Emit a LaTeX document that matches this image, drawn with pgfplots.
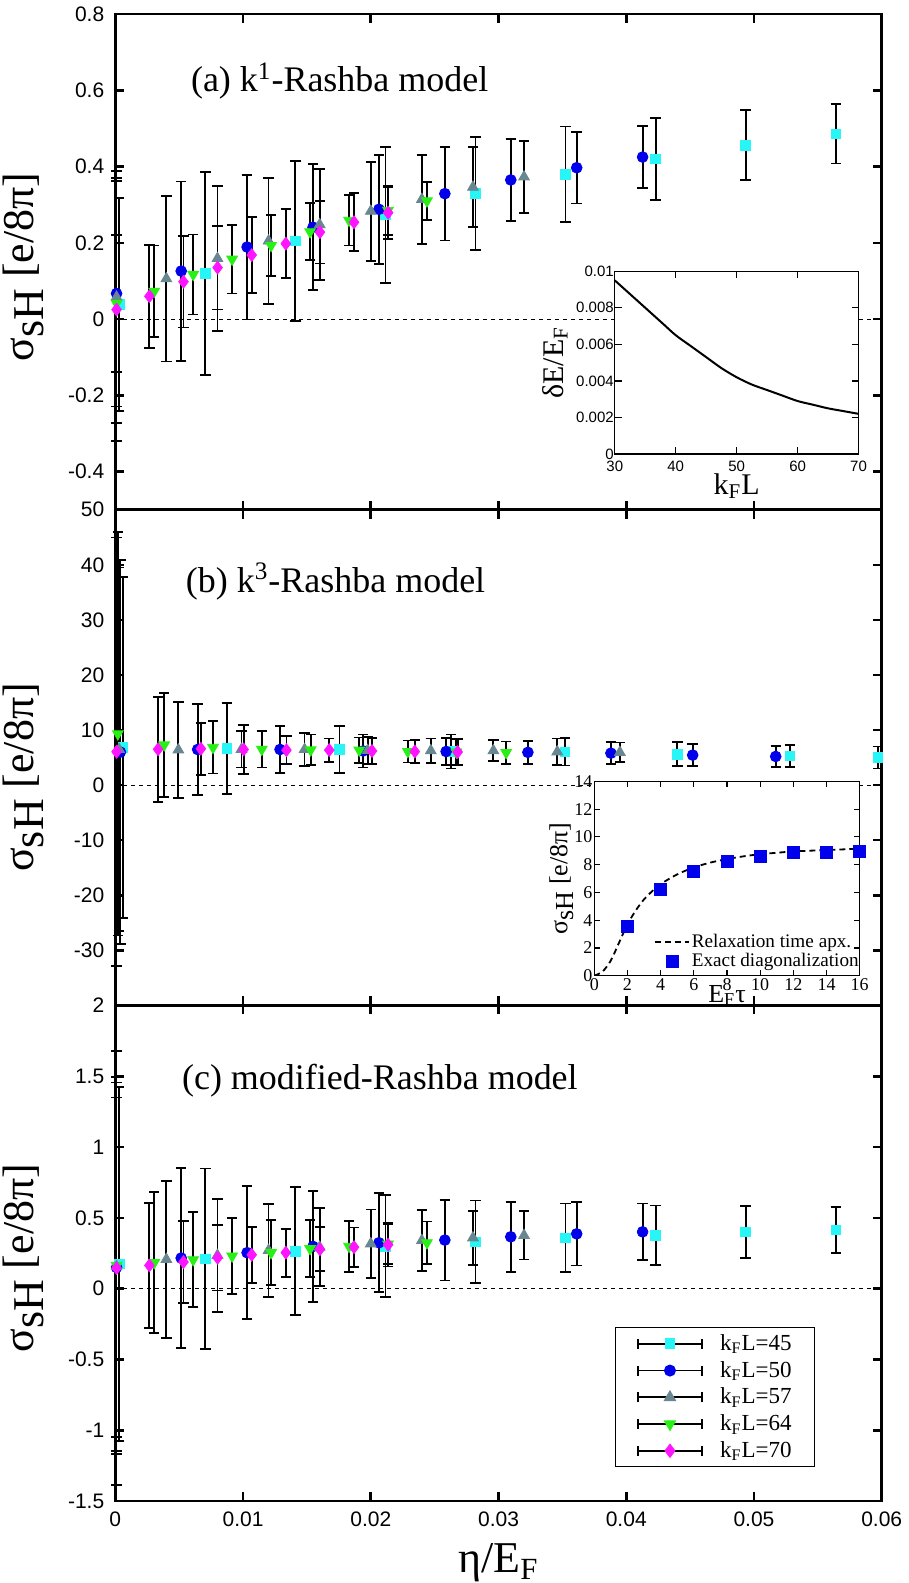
\documentclass[border=0pt]{standalone}
\usepackage{fontspec}
\setmainfont{Liberation Serif}
\setsansfont{Liberation Sans}
\usepackage{pgfplots}
\pgfplotsset{compat=1.18}

\definecolor{cCyan}{RGB}{40,245,245}
\definecolor{cBlue}{RGB}{0,0,235}
\definecolor{cGray}{RGB}{105,135,145}
\definecolor{cGreen}{RGB}{40,240,20}
\definecolor{cMag}{RGB}{255,20,255}

\newcommand{\sigsH}{σ\raisebox{-0.22em}{sH}}

\tikzset{ttl/.style={anchor=west, inner sep=0pt, font=\fontsize{18}{20}\selectfont}}

\pgfplotsset{
  errser/.style={only marks,
    error bars/y dir=both, error bars/y explicit,
    error bars/error bar style={black, line width=0.9pt, solid},
    error bars/error mark options={rotate=90, black, mark size=2.6pt, line width=0.9pt}},
  kA/.style={errser, mark=square*, mark size=2.4pt, color=cCyan},
  kB/.style={errser, mark=*, mark size=2.7pt, color=cBlue},
  kC/.style={errser, mark=triangle*, mark size=3.1pt, color=cGray},
  kD/.style={errser, mark=triangle*, mark size=3.1pt, mark options={rotate=180}, color=cGreen},
  kE/.style={errser, mark=diamond*, mark size=3.2pt, color=cMag},
  main/.style={scale only axis, width=383.5pt, height=248pt, anchor=north west,
    xmin=0, xmax=0.06, xtick={0,0.01,0.02,0.03,0.04,0.05,0.06},
    scaled ticks=false,
    axis line style={line width=1.3pt},
    major tick style={black, line width=1.3pt},
    major tick length=4.5pt, clip=false,
    tick label style={font=\sffamily\fontsize{10.5}{12}\selectfont},
    /pgf/number format/assume math mode=true,
    yticklabel style={xshift=-2pt},
    ylabel style={font=\fontsize{22}{26}\selectfont, inner sep=1.5pt, anchor=center},
  },
  zline/.style={black, line width=0.6pt, dash pattern=on 2pt off 2pt, forget plot},
  legerr/.style={legend image code/.code={
      \draw[black, line width=0.9pt] (0pt,0pt) -- (32pt,0pt) (0pt,-2.5pt) -- (0pt,2.5pt) (32pt,-2.5pt) -- (32pt,2.5pt);
      \draw[##1] plot coordinates {(16pt,0pt)};
      \path (40.5pt,0pt);}},
}

\begin{document}
\begin{tikzpicture}
\path (-57.5pt,6.5pt) rectangle (396pt,-785pt);

% (a) k^1-Rashba
\begin{axis}[main, at={(0,0)}, ymin=-0.5, ymax=0.8,
  ytick={-0.4,-0.2,0,0.2,0.4,0.6,0.8}, xticklabels={},
  ylabel={\sigsH{} [e/8π]},
  ylabel style={at={(axis description cs:-0.12,0.49)}}]
\addplot[zline] coordinates {(0,0) (0.06,0)};
\addplot[kA] coordinates {
 (0.0003,0.038) +- (0,0.28) (0.00705,0.120) +- (0,0.266) (0.0141,0.205) +- (0,0.21)
 (0.02115,0.273) +- (0,0.178) (0.0282,0.330) +- (0,0.148) (0.03525,0.380) +- (0,0.125)
 (0.0423,0.420) +- (0,0.108) (0.04935,0.456) +- (0,0.092) (0.0564,0.486) +- (0,0.078)};
\addplot[kB] coordinates {
 (0.0001,0.067) +- (0,0.296) (0.00516,0.126) +- (0,0.235) (0.01032,0.189) +- (0,0.19)
 (0.01548,0.241) +- (0,0.165) (0.02064,0.288) +- (0,0.143) (0.0258,0.329) +- (0,0.123)
 (0.03096,0.365) +- (0,0.108) (0.03612,0.397) +- (0,0.094) (0.04128,0.425) +- (0,0.082)};
\addplot[kC] coordinates {
 (0.0001,0.058) +- (0,0.33) (0.004,0.106) +- (0,0.217) (0.008,0.159) +- (0,0.19)
 (0.012,0.205) +- (0,0.165) (0.016,0.248) +- (0,0.145) (0.020,0.283) +- (0,0.13)
 (0.024,0.314) +- (0,0.116) (0.028,0.346) +- (0,0.105) (0.032,0.373) +- (0,0.094)};
\addplot[kD] coordinates {
 (0.0001,0.041) +- (0,0.18) (0.00305,0.073) +- (0,0.12) (0.0061,0.117) +- (0,0.105)
 (0.00915,0.157) +- (0,0.09) (0.0122,0.193) +- (0,0.08) (0.01525,0.229) +- (0,0.075)
 (0.0183,0.259) +- (0,0.066) (0.02135,0.285) +- (0,0.065) (0.0244,0.310) +- (0,0.05)};
\addplot[kE] coordinates {
 (0.0001,0.025) +- (0,0.345) (0.00267,0.060) +- (0,0.135) (0.00534,0.098) +- (0,0.12)
 (0.00801,0.135) +- (0,0.11) (0.01068,0.168) +- (0,0.10) (0.01335,0.198) +- (0,0.09)
 (0.01602,0.228) +- (0,0.082) (0.01869,0.254) +- (0,0.076) (0.02136,0.279) +- (0,0.068)};
\node[ttl] at (axis cs:0.0059,0.624) {(a) k\textsuperscript{1}-Rashba model};
\coordinate (insA) at (axis cs:0.0391,-0.354);
\end{axis}

% (b) k^3-Rashba
\begin{axis}[main, at={(0,-248pt)}, ymin=-40, ymax=50,
  ytick={-30,-20,-10,0,10,20,30,40,50}, xticklabels={},
  ylabel={\sigsH{} [e/8π]},
  ylabel style={at={(axis description cs:-0.12,0.46)}}]
\addplot[zline] coordinates {(0,0) (0.06,0)};
\addplot[kA] coordinates {
 (0.0006,6.84) +- (0,31) (0.00874,6.65) +- (0,8.2) (0.01755,6.47) +- (0,4.2)
 (0.0263,6.1) +- (0,3.1) (0.0352,6.05) +- (0,2.5) (0.0440,5.6) +- (0,2.2)
 (0.0528,5.3) +- (0,2.0) (0.0597,5.0) +- (0,2.0)};
\addplot[kB] coordinates {
 (0.0004,6.0) +- (0,34.9) (0.00645,6.47) +- (0,8.3) (0.0129,6.47) +- (0,4.2)
 (0.0194,6.2) +- (0,3.0) (0.0259,6.1) +- (0,2.5) (0.0323,5.95) +- (0,2.1)
 (0.0388,5.8) +- (0,2.0) (0.0452,5.45) +- (0,2.0) (0.0517,5.2) +- (0,1.9)};
\addplot[kC] coordinates {
 (0.0003,6.5) +- (0,33) (0.00494,6.4) +- (0,8.7) (0.00988,6.5) +- (0,3.3)
 (0.01482,6.47) +- (0,3.0) (0.01976,6.3) +- (0,2.5) (0.0247,6.25) +- (0,2.2)
 (0.0296,6.25) +- (0,1.9) (0.0346,6.05) +- (0,2.4) (0.0395,5.95) +- (0,1.8)};
\addplot[kD] coordinates {
 (0.0002,9.3) +- (0,36.6) (0.00383,7.3) +- (0,9.4) (0.00765,6.84) +- (0,4.75)
 (0.01147,6.5) +- (0,3.3) (0.0153,6.4) +- (0,2.8) (0.0191,6.35) +- (0,2.3)
 (0.0229,6.1) +- (0,2.0) (0.0267,6.0) +- (0,2.4) (0.0306,5.9) +- (0,2.0)};
\addplot[kE] coordinates {
 (0.0001,6.05) +- (0,38.9) (0.00335,6.5) +- (0,9.5) (0.0067,6.6) +- (0,4.75)
 (0.01005,6.47) +- (0,4.45) (0.0134,6.35) +- (0,2.5) (0.01675,6.35) +- (0,2.1)
 (0.0201,6.2) +- (0,2.35) (0.02345,6.1) +- (0,2.05) (0.0268,6.0) +- (0,2.4)};
\node[ttl] at (axis cs:0.0055,37.0) {(b) k\textsuperscript{3}-Rashba model};
\coordinate (insB) at (axis cs:0.0375,-34.6);
\end{axis}

% (c) modified-Rashba
\begin{axis}[main, at={(0,-496pt)}, ymin=-1.5, ymax=2,
  ytick={-1.5,-1,-0.5,0,0.5,1,1.5,2},
  xticklabels={0,0.01,0.02,0.03,0.04,0.05,0.06},
  xticklabel style={yshift=-2pt},
  ylabel={\sigsH{} [e/8π]},
  ylabel style={at={(axis description cs:-0.12,0.49)}},
  xlabel={η/E\textsubscript{F}},
  xlabel style={font=\fontsize{22}{26}\selectfont, inner sep=0pt, at={(axis description cs:0.5,0)}, anchor=center, yshift=-31pt},
  legend style={at={(axis cs:0.03908,-0.272)}, anchor=north west, draw=black, line width=0.6pt,
    inner xsep=11pt, inner ysep=3pt, row sep=3.3pt,
    nodes={inner sep=0.3pt, font=\fontsize{11.5}{13}\selectfont},
    cells={anchor=west}}]
\addplot[zline] coordinates {(0,0) (0.06,0)};
\addplot[kA, legerr] coordinates {
 (0.0003,0.176) +- (0,1.25) (0.00705,0.211) +- (0,0.637) (0.0141,0.265) +- (0,0.45)
 (0.02115,0.30) +- (0,0.36) (0.0282,0.331) +- (0,0.291) (0.03525,0.359) +- (0,0.242)
 (0.0423,0.378) +- (0,0.209) (0.04935,0.40) +- (0,0.184) (0.0564,0.414) +- (0,0.16)};
\addlegendentry{k\textsubscript{F}L=45}
\addplot[kB, legerr] coordinates {
 (0.0001,0.15) +- (0,1.2) (0.00516,0.216) +- (0,0.635) (0.01032,0.254) +- (0,0.47)
 (0.01548,0.298) +- (0,0.39) (0.02064,0.324) +- (0,0.35) (0.0258,0.343) +- (0,0.285)
 (0.03096,0.366) +- (0,0.248) (0.03612,0.387) +- (0,0.223) (0.04128,0.401) +- (0,0.2)};
\addlegendentry{k\textsubscript{F}L=50}
\addplot[kC, legerr] coordinates {
 (0.0001,0.155) +- (0,1.3) (0.004,0.207) +- (0,0.555) (0.008,0.235) +- (0,0.4)
 (0.012,0.27) +- (0,0.327) (0.016,0.293) +- (0,0.277) (0.020,0.317) +- (0,0.242)
 (0.024,0.34) +- (0,0.214) (0.028,0.359) +- (0,0.191) (0.032,0.376) +- (0,0.17)};
\addlegendentry{k\textsubscript{F}L=57}
\addplot[kD, legerr] coordinates {
 (0.0001,0.164) +- (0,1.33) (0.00305,0.183) +- (0,0.497) (0.0061,0.204) +- (0,0.335)
 (0.00915,0.23) +- (0,0.27) (0.0122,0.254) +- (0,0.231) (0.01525,0.282) +- (0,0.2)
 (0.0183,0.298) +- (0,0.182) (0.02135,0.315) +- (0,0.139) (0.0244,0.324) +- (0,0.15)};
\addlegendentry{k\textsubscript{F}L=64}
\addplot[kE, legerr] coordinates {
 (0.0001,0.146) +- (0,1.53) (0.00267,0.164) +- (0,0.443) (0.00534,0.188) +- (0,0.288)
 (0.00801,0.218) +- (0,0.231) (0.01068,0.239) +- (0,0.197) (0.01335,0.254) +- (0,0.17)
 (0.01602,0.278) +- (0,0.156) (0.01869,0.293) +- (0,0.139) (0.02136,0.31) +- (0,0.153)};
\addlegendentry{k\textsubscript{F}L=70}
\node[ttl] at (axis cs:0.0052,1.47) {(c) modified-Rashba model};
\end{axis}

% inset of (a)
\begin{axis}[at={(insA)}, anchor=south west, scale only axis, width=122pt, height=91.5pt,
  xmin=30, xmax=70, ymin=0, ymax=0.01, scaled ticks=false,
  xtick={30,40,50,60,70}, ytick={0,0.002,0.004,0.006,0.008,0.01},
  yticklabels={0,0.002,0.004,0.006,0.008,0.01},
  axis background/.style={fill=white},
  axis line style={line width=0.6pt}, major tick style={black, line width=0.6pt},
  major tick length=3.5pt,
  tick label style={font=\sffamily\fontsize{7.5}{9}\selectfont},
  /pgf/number format/assume math mode=true,
  yticklabel style={xshift=3pt},
  xlabel={k\textsubscript{F}L}, ylabel={δE/E\textsubscript{F}},
  label style={font=\fontsize{15}{17}\selectfont, inner sep=0pt},
  xlabel style={at={(axis description cs:0.5,0)}, anchor=center, yshift=-16pt},
  ylabel style={at={(axis description cs:-0.245,0.5)}, anchor=center}]
\addplot[black, line width=1pt, smooth] coordinates {
 (30,0.0095) (32,0.0089) (34,0.0083) (36,0.0077) (38,0.0071) (40,0.0065)
 (42.5,0.0059) (45,0.0053) (47.5,0.0047) (50,0.0042) (52.5,0.0038) (55,0.0035)
 (57.5,0.0032) (60,0.0029) (62.5,0.0027) (65,0.0025) (67.5,0.00235) (70,0.0022)};
\end{axis}

% inset of (b)
\begin{axis}[at={(insB)}, anchor=south west, scale only axis, width=132.8pt, height=97.2pt,
  xmin=0, xmax=16, ymin=0, ymax=14, scaled ticks=false,
  xtick={0,2,4,6,8,10,12,14,16}, ytick={0,2,4,6,8,10,12,14},
  axis background/.style={fill=white},
  axis line style={line width=0.6pt}, major tick style={black, line width=0.6pt},
  major tick length=3pt,
  tick label style={font=\fontsize{9}{10}\selectfont},
  /pgf/number format/assume math mode=true,
  yticklabel style={xshift=2.5pt}, xticklabel style={yshift=2pt},
  xlabel={E\textsubscript{F}τ}, ylabel={\sigsH{} [e/8π]},
  label style={font=\fontsize{13}{15}\selectfont, inner sep=0pt},
  xlabel style={at={(axis description cs:0.5,0)}, anchor=center, yshift=-10pt},
  ylabel style={at={(axis description cs:-0.124,0.5)}, anchor=center},
  legend style={draw=none, fill=none, at={(rel axis cs:1.005,0.02)}, anchor=south east,
    inner sep=0pt, row sep=-0.5pt, nodes={inner sep=1pt, font=\fontsize{9.6}{11}\selectfont},
    cells={anchor=west}}]
\addplot[black, line width=0.9pt, dash pattern=on 3pt off 2pt, smooth] coordinates {
 (0,0) (0.5,0.3) (1,1.1) (1.5,2.4) (2,3.7) (2.5,4.7) (3,5.5) (3.5,6.1) (4,6.6)
 (5,7.3) (6,7.8) (7,8.15) (8,8.4) (9,8.6) (10,8.75) (12,8.95) (14,9.05) (16,9.15)};
\addlegendentry{Relaxation time apx.}
\addplot[only marks, mark=square*, mark size=3pt, color=cBlue] coordinates {
 (2,3.56) (4,6.2) (6,7.52) (8,8.2) (10,8.56) (12,8.85) (14,8.9) (16,8.97)};
\addlegendentry{Exact diagonalization}
\end{axis}

\end{tikzpicture}
\end{document}
